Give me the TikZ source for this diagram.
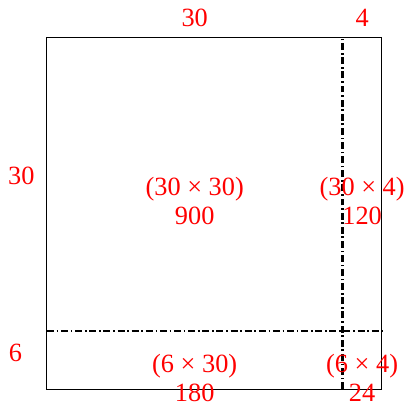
\documentclass[tikz,border=0pt]{standalone}
\usepackage{fontspec}
\setmainfont{Liberation Serif}
\usepackage{tikz}
\definecolor{lblred}{HTML}{FF0000}

\begin{document}
\begin{tikzpicture}[x=0.25cm, y=0.25cm,
  lbl/.style={text=lblred, font=\fontsize{19}{21}\selectfont, inner sep=0pt},
  cutline/.style={line width=1.8pt, dash pattern=on 5pt off 2pt on 1.2pt off 2pt}]
\useasboundingbox (-4.77,-1.52) rectangle (36.24,39.50);
% outer square
\draw[line width=0.7pt] (0,0) rectangle (34,35.7);
% cut lines
\coordinate (vtop) at (30,35.7);
\coordinate (vbot) at (30,0);
\coordinate (hleft) at (0,5.9);
\coordinate (hright) at (34,5.9);
\draw[cutline] (vbot) -- (vtop);
\draw[cutline] (hleft) -- (hright);
% side lengths
\node[lbl] (top30) at (15,37.7) {30};
\node[lbl] (top4) at (32,37.7) {4};
\node[lbl] (left30) at (-2.6,21.6) {30};
\node[lbl] (left6) at (-3.2,3.7) {6};
% areas
\node[lbl, align=center] (a1) at (15,19.1) {(30 × 30)\\900};
\node[lbl, align=center] (a2) at (32,19.1) {(30 × 4)\\120};
\node[lbl, align=center] (a3) at (15,1.1) {(6 × 30)\\180};
\node[lbl, align=center] (a4) at (32,1.1) {(6 × 4)\\24};
\end{tikzpicture}
\end{document}
